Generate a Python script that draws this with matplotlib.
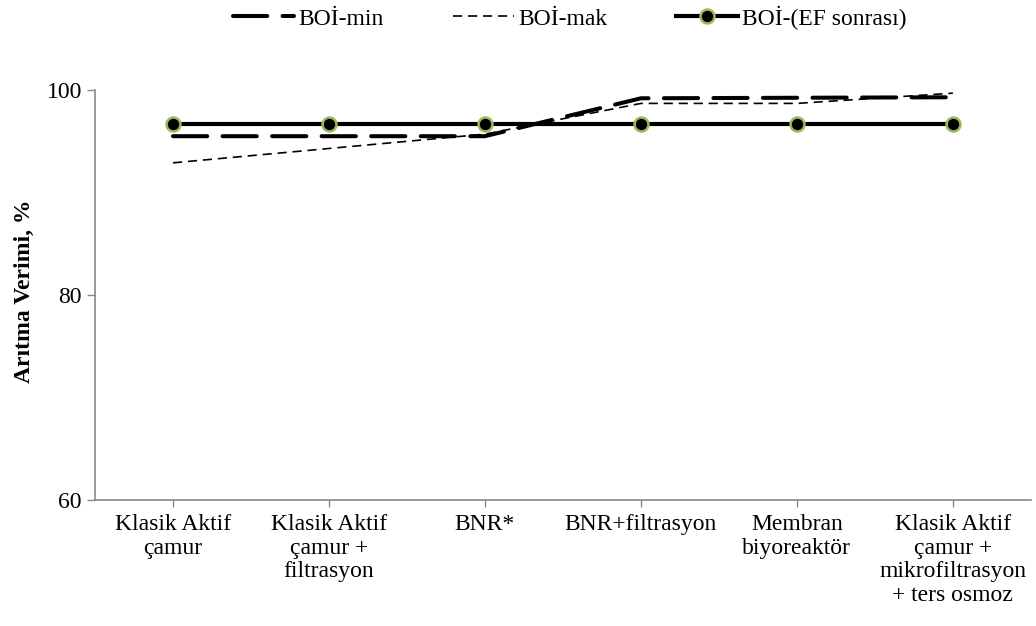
import numpy as np
import matplotlib.pyplot as plt

plt.rcParams['font.family'] = ['Liberation Serif', 'DejaVu Serif']

categories = ['Klasik Aktif\nçamur', 'Klasik Aktif\nçamur +\nfiltrasyon', 'BNR*',
              'BNR+filtrasyon', 'Membran\nbiyoreaktör',
              'Klasik Aktif\nçamur +\nmikrofiltrasyon\n+ ters osmoz']
boi_min = [95.5, 95.5, 95.5, 99.2, 99.25, 99.3]
boi_mak = [92.9, 94.3, 95.7, 98.7, 98.7, 99.7]
boi_ef = [96.7, 96.7, 96.7, 96.7, 96.7, 96.7]

x = np.arange(len(categories))

fig = plt.figure(figsize=(10.36, 6.26), dpi=100)
ax = fig.add_axes([0.0917, 0.2013, 0.9033, 0.6548])

ax.plot(x, boi_min, color='black', lw=2.9, dashes=(8.5, 3.8),
        dash_capstyle='round', label='BOİ-min')
ax.plot(x, boi_mak, color='black', lw=1.2, dashes=(5.5, 3.5), label='BOİ-mak')
ax.plot(x, boi_ef, color='black', lw=3, marker='o', ms=10,
        mfc='black', mec='#9BBB59', mew=1.8, label='BOİ-(EF sonrası)')

ax.set_xlim(-0.5, len(categories) - 0.5)
ax.set_ylim(60, 100)
ax.set_yticks([60, 80, 100])
ax.set_xticks(x)
ax.set_xticklabels(categories, fontsize=17, linespacing=1.17)
ax.tick_params(axis='y', labelsize=17, color='#888888', length=6, width=1)
ax.tick_params(axis='x', color='#888888', length=5, width=1, pad=5)

for side in ['top', 'right']:
    ax.spines[side].set_visible(False)
for side in ['left', 'bottom']:
    ax.spines[side].set_color('#888888')
    ax.spines[side].set_linewidth(1.2)

ax.set_ylabel('Arıtma Verimi, %', fontsize=17, fontweight='bold')
ax.yaxis.set_label_coords(-0.064, 0.51)

fig.legend(loc='center', bbox_to_anchor=(0.55, 0.972), ncol=3, frameon=False,
           fontsize=17, handlelength=2.6, columnspacing=2.9, handletextpad=0.2)

plt.savefig('out.png')
